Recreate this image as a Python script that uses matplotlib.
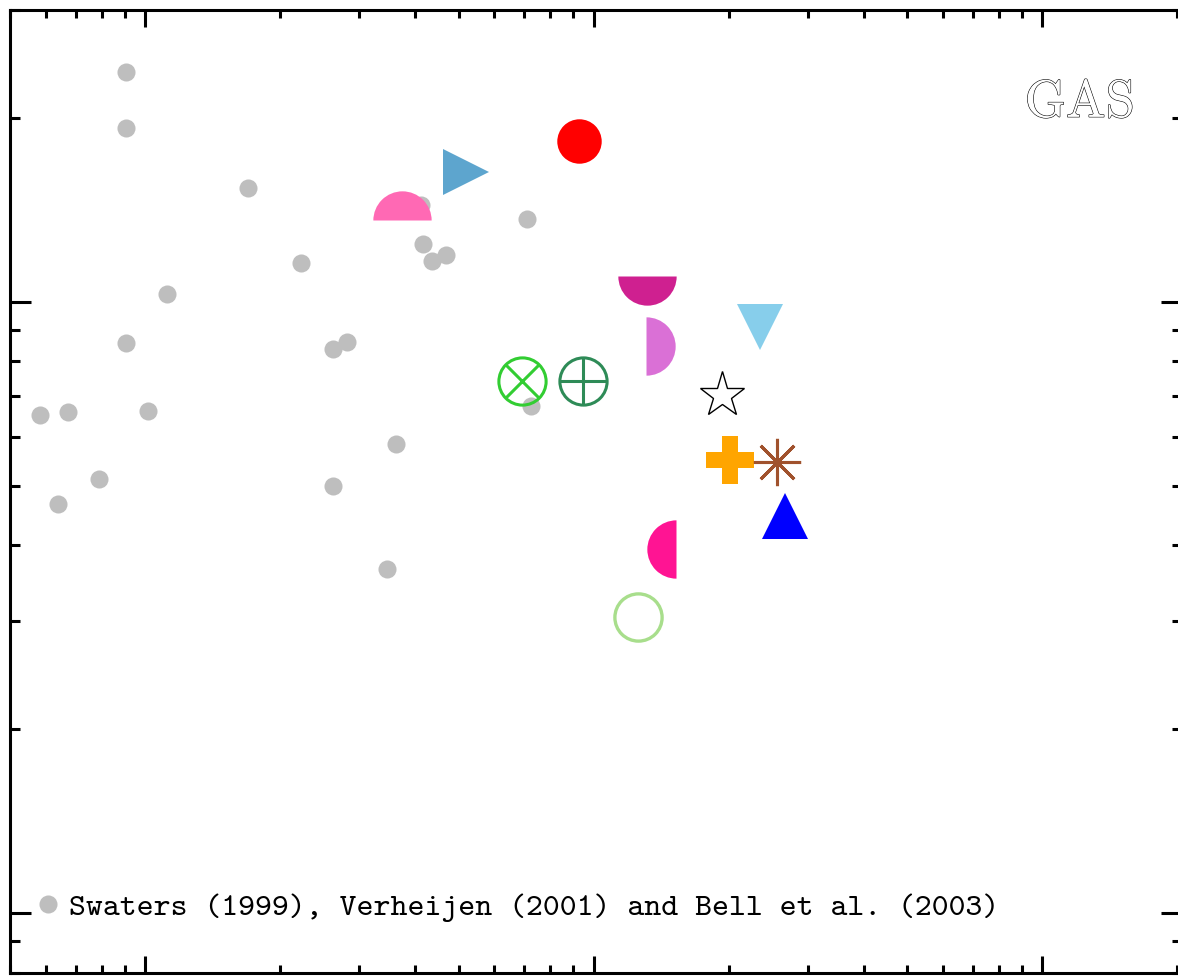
import matplotlib
matplotlib.use("Agg")
import matplotlib.pyplot as plt
import matplotlib.patheffects as pe
from matplotlib.ticker import LogLocator, NullFormatter

# literature sample (grey dots)
gray_x = [0.907, 0.907, 1.697, 7.11, 4.17, 4.36, 4.69, 2.23, 1.12, 0.907, 2.63, 2.82,
          0.583, 0.673, 1.016, 7.25, 3.63, 0.790, 0.640, 2.63, 3.46, 4.13]
gray_y = [23.75, 19.24, 15.35, 13.66, 12.43, 11.66, 11.93, 11.57, 10.30, 8.56, 8.37, 8.60,
          6.53, 6.60, 6.63, 6.75, 5.85, 5.13, 4.67, 5.00, 3.66, 14.40]

# individual galaxies (coloured symbols)
gal_names = ["red", "tri_r", "half_top", "half_bot", "half_right", "half_left",
             "otimes", "oplus", "star", "tri_d", "plus", "aster", "tri_u", "ring"]
gal_x = [9.28, 5.20, 3.74, 13.16, 13.09, 15.28, 6.93, 9.45, 19.29, 23.5, 20.16, 25.6, 26.7, 12.57]
gal_y = [18.32, 16.30, 13.61, 11.02, 8.47, 3.94, 7.43, 7.43, 7.04, 9.09, 5.51, 5.47, 4.47, 3.05]

legend_label = "Swaters (1999), Verheijen (2001) and Bell et al. (2003)"

STY = {
    "red": dict(marker="o", ms=32, color="red", mew=0),
    "tri_r": dict(marker=">", ms=33, color="#5DA5CE", mew=0),
    "half_top": dict(marker="o", ms=42, color="#FF69B4", fillstyle="top", markerfacecoloralt="none", mew=0),
    "half_bot": dict(marker="o", ms=42, color="#CF2090", fillstyle="bottom", markerfacecoloralt="none", mew=0),
    "half_right": dict(marker="o", ms=42, color="#DA70D6", fillstyle="right", markerfacecoloralt="none", mew=0),
    "half_left": dict(marker="o", ms=42, color="#FF1493", fillstyle="left", markerfacecoloralt="none", mew=0),
    "star": dict(marker="*", ms=34, mfc="white", mec="black", mew=1.0),
    "tri_d": dict(marker="v", ms=33, color="#87CEEB", mew=0),
    "plus": dict(marker="P", ms=34, color="orange", mew=0),
    "aster": dict(marker=(8, 2, 0), ms=34, color="#A0522D", mew=2.2),
    "tri_u": dict(marker="^", ms=33, color="blue", mew=0),
    "ring": dict(marker="o", ms=34, mfc="none", mec="#A8DE8C", mew=2.4),
}

fig = plt.figure(figsize=(11.78, 9.76), dpi=100)
ax = fig.add_axes([10/1178, 3.5/976, 1172/1178, 962.5/976])
ax.set_xscale("log"); ax.set_yscale("log")

ax.plot(gray_x, gray_y, "o", ms=13, color="#BEBEBE", mew=0, ls="none", label=legend_label, zorder=2)

for n, x, y in zip(gal_names, gal_x, gal_y):
    if n == "otimes":
        ax.plot(x, y, "o", ms=34, mfc="none", mec="#32CD32", mew=2.2, zorder=3)
        ax.plot(x, y, "x", ms=25, mec="#32CD32", mew=2.2, zorder=3)
    elif n == "oplus":
        ax.plot(x, y, "o", ms=34, mfc="none", mec="#2E8B57", mew=2.2, zorder=3)
        ax.plot(x, y, "+", ms=35, mec="#2E8B57", mew=2.2, zorder=3)
    else:
        ax.plot(x, y, ls="none", zorder=3, **STY[n])

ax.set_xlim(0.5, 205); ax.set_ylim(0.8, 30)
for a in (ax.xaxis, ax.yaxis):
    a.set_major_locator(LogLocator(base=10, numticks=10))
    a.set_minor_locator(LogLocator(base=10, subs=range(2, 10), numticks=20))
    a.set_major_formatter(NullFormatter()); a.set_minor_formatter(NullFormatter())
ax.tick_params(which="both", direction="in", top=True, right=True, width=2.2, color="black")
ax.tick_params(axis="x", which="major", length=12)
ax.tick_params(axis="x", which="minor", length=5.5)
ax.tick_params(axis="y", which="major", length=15)
ax.tick_params(axis="y", which="minor", length=7)
for s in ax.spines.values(): s.set_linewidth(2.2)

t = ax.text(0.96, 0.903, "GAS", transform=ax.transAxes, ha="right", va="center",
            fontsize=38, family="cmr10", color="white")
t.set_path_effects([pe.Stroke(linewidth=0.8, foreground="black"), pe.Normal()])

ax.legend(loc="center left", bbox_to_anchor=(0.013, 0.068), frameon=False, handlelength=0.6,
          handletextpad=0.35, borderaxespad=0, markerscale=1.0,
          prop={"family": "cmtt10", "size": 23.2})

fig.savefig("out.png", dpi=100)
